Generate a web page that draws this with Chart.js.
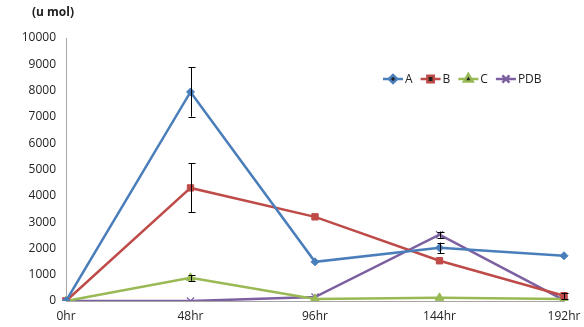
<!DOCTYPE html>
<html>
<head>
<meta charset="utf-8">
<script src="https://cdn.jsdelivr.net/npm/chart.js@4"></script>
<style>
  html, body { margin: 0; padding: 0; background: #fff; }
  #wrap { width: 584px; height: 327px; position: relative; }
</style>
</head>
<body>
<div id="wrap"><canvas id="c" width="584" height="327"></canvas></div>
<script>
// Sampling times
const times = ['0hr', '48hr', '96hr', '144hr', '192hr'];

// Measured amounts (u mol) per strain
const seriesA = [0, 7950, 1490, 2020, 1720];
const seriesB = [0, 4300, 3200, 1530, 200];
const seriesC = [0, 880, 80, 120, 80];
const seriesPDB = [0, 0, 150, 2520, 30];

// Standard deviations (null = no bar)
const errA = [null, 940, null, 200, null];
const errB = [null, 930, null, null, 120];
const errC = [null, 110, null, null, null];
const errPDB = [null, null, null, 120, null];

// Y axis ticks
const yTicks = [0, 1000, 2000, 3000, 4000, 5000, 6000, 7000, 8000, 9000, 10000];

const FONT = '"Open Sans", "Liberation Sans", sans-serif';

const defs = [
  { label: 'A', data: seriesA, err: errA, color: '#4a7ebb', style: 'rectRot', r: 4 },
  { label: 'B', data: seriesB, err: errB, color: '#be4b48', style: 'rect', r: 4.5 },
  { label: 'C', data: seriesC, err: errC, color: '#98b954', style: 'triangle', r: 5 },
  { label: 'PDB', data: seriesPDB, err: errPDB, color: '#7d60a0', style: 'cross', r: 5 }
];

// Error bars drawn through the chart scales
const errorBars = {
  id: 'errorBars',
  afterDatasetsDraw(chart) {
    const { ctx, scales: { x, y } } = chart;
    ctx.save();
    ctx.strokeStyle = '#000';
    ctx.lineWidth = 1;
    chart.data.datasets.forEach(ds => {
      ds.err.forEach((e, i) => {
        if (e == null) return;
        const px = Math.round(x.getPixelForValue(i)) + 0.5;
        const top = y.getPixelForValue(ds.data[i] + e);
        const bot = y.getPixelForValue(Math.max(ds.data[i] - e, 0));
        ctx.beginPath();
        ctx.moveTo(px, top); ctx.lineTo(px, bot);
        ctx.moveTo(px - 3, Math.round(top) + 0.5); ctx.lineTo(px + 4, Math.round(top) + 0.5);
        ctx.moveTo(px - 3, Math.round(bot) + 0.5); ctx.lineTo(px + 4, Math.round(bot) + 0.5);
        ctx.stroke();
      });
    });
    ctx.restore();
  }
};

// Unit label and line-with-marker legend
const decorations = {
  id: 'decorations',
  afterDraw(chart) {
    const { ctx } = chart;
    ctx.save();
    ctx.fillStyle = '#222';
    ctx.font = 'bold 12px ' + FONT;
    ctx.textBaseline = 'middle';
    ctx.fillText('(u mol)', 32, 13);

    let lx = 383;
    const ly = 79;
    ctx.font = '12px ' + FONT;
    chart.data.datasets.forEach(ds => {
      ctx.strokeStyle = ds.borderColor;
      ctx.lineWidth = 2.5;
      ctx.beginPath();
      ctx.moveTo(lx, ly); ctx.lineTo(lx + 20, ly);
      ctx.stroke();
      Chart.helpers.drawPoint(ctx, {
        pointStyle: ds.pointStyle, radius: ds.pointRadius, borderWidth: ds.pointStyle === 'cross' ? 1.2 : 1,
        rotation: ds.pointStyle === 'cross' ? 45 : 0
      }, lx + 10, ly);
      ctx.fillStyle = '#222';
      ctx.fillText(ds.label, lx + 22, ly + 1);
      lx += 22 + ctx.measureText(ds.label).width + 8;
    });
    ctx.restore();
  }
};

new Chart(document.getElementById('c'), {
  type: 'line',
  data: {
    labels: times,
    datasets: defs.map(d => ({
      label: d.label,
      data: d.data,
      err: d.err,
      borderColor: d.color,
      backgroundColor: d.color,
      pointBackgroundColor: d.color,
      pointBorderColor: d.color,
      pointStyle: d.style,
      pointRadius: d.r,
      pointRotation: d.style === 'cross' ? 45 : 0,
      pointBorderWidth: d.style === 'cross' ? 1.2 : 1,
      borderWidth: 2.5,
      tension: 0,
      fill: false
    }))
  },
  options: {
    responsive: false,
    animation: false,
    layout: { padding: { top: 38, right: 20, left: 0, bottom: 0 } },
    plugins: {
      legend: { display: false },
      tooltip: { enabled: false }
    },
    scales: {
      x: {
        offset: false,
        grid: { display: false, drawTicks: false },
        border: { color: '#a6a6a6', width: 1 },
        ticks: { color: '#222', font: { family: FONT, size: 12 }, padding: 8, maxRotation: 0 },
        afterFit(s) { s.height = 26; s.paddingRight = 0; }
      },
      y: {
        min: 0, max: 10000,
        afterBuildTicks(s) { s.ticks = yTicks.map(v => ({ value: v })); },
        grid: { display: false, drawOnChartArea: false, drawTicks: true, tickLength: 4, tickColor: '#a6a6a6' },
        border: { color: '#a6a6a6', width: 1 },
        ticks: { color: '#222', font: { family: FONT, size: 12 }, padding: 6, callback: v => String(v) },
        afterFit(s) { s.width = 66; }
      }
    }
  },
  plugins: [errorBars, decorations]
});
</script>
</body>
</html>
